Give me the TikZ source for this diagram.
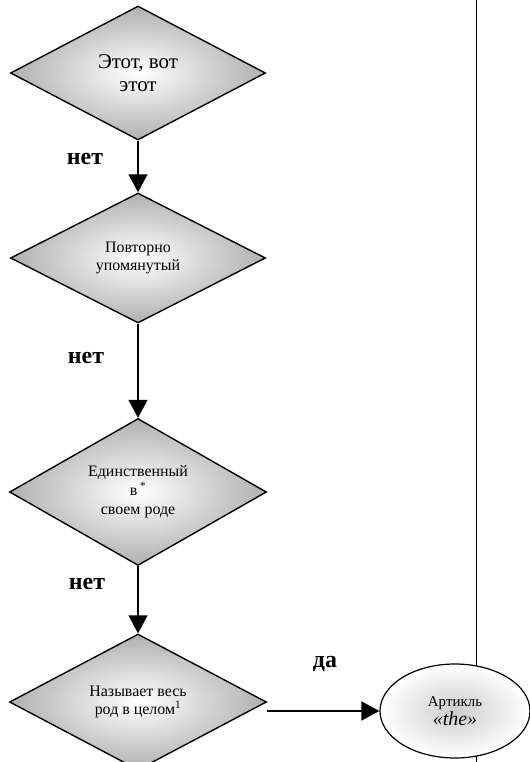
\documentclass[tikz,border=0pt]{standalone}
\usepackage{fontspec}
\setmainfont{Liberation Serif}
\usetikzlibrary{shapes.geometric}
\usetikzlibrary{arrows.meta}

\begin{document}
\begin{tikzpicture}[x=1bp, y=-1bp,
	test/.style={diamond, draw, line width=1.4bp, shape aspect=1.9, inner sep=0pt, align=center,
		inner color=white, outer color=gray!62, font=\fontsize{16}{19}\selectfont},
	arr/.style={line width=1.4bp, -{Triangle[length=18bp, width=19bp]}},
	lbl/.style={font=\fontsize{24}{26}\selectfont\bfseries}]
	\useasboundingbox (0,0) rectangle (530,762);
	
	% right line going down to the article
	\coordinate (railtop) at (476,0);
	\coordinate (railbot) at (476,762);
	\draw[line width=0.8bp] (railtop) -- (railbot);
	
	% the questions
	\node[test, minimum width=255bp, minimum height=134bp, font=\fontsize{21}{23}\selectfont] (this) at (138,73) {Этот, вот\\этот};
	\node[test, minimum width=255bp, minimum height=130bp] (again) at (138,258) {Повторно\\упомянутый};
	\node[test, minimum width=257bp, minimum height=147bp] (unique) at (138,492) {Единственный\\в\,\textsuperscript{*}\\своем роде};
	\node[test, minimum width=257bp, minimum height=136bp] (genus) at (138,702) {Называет весь\\род в целом\textsuperscript{1}};
	
	% answer
	\node[ellipse, draw, line width=1.2bp, minimum width=150bp, minimum height=94bp, align=center,
		inner color=gray!40, outer color=white, font=\fontsize{15}{19}\selectfont] (art) at (455,711) {Артикль\\{\fontsize{20}{19}\selectfont\textit{«the»}}};
	
	% arrows
	\draw[arr] (this.south) -- (again.north);
	\draw[arr] (again.south) -- (unique.north);
	\draw[arr] (unique.south) -- (genus.north);
	\draw[arr] (genus.east |- art.west) -- (art.west);
	
	\node[lbl] (no1) at (85,159) {нет};
	\node[lbl] (no2) at (86,358) {нет};
	\node[lbl] (no3) at (87,584) {нет};
	\node[lbl] (yes) at (325,664) {да};
\end{tikzpicture}
\end{document}
